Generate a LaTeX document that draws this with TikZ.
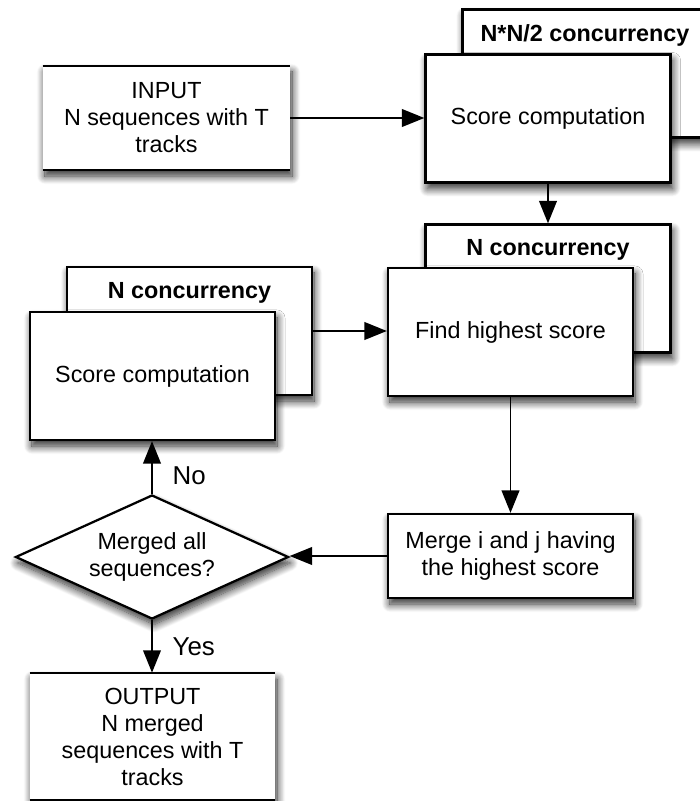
\documentclass[tikz,border=0pt]{standalone}
\usepackage{fontspec}
\setmainfont{Liberation Sans}
\usepackage{tikz}
\usetikzlibrary{arrows.meta,positioning,shapes.geometric,shadows.blur,calc}
\newcommand{\flowfont}{\fontsize{16.6}{19.2}\selectfont}
\tikzset{
  softshade/.style={blur shadow={shadow xshift=0.05cm, shadow yshift=-0.15cm,
        shadow blur radius=0.2cm, shadow blur steps=12, shadow opacity=85}},
  procbox/.style={draw=black, fill=white, line width=1.6pt, softshade,
        minimum width=6.125cm, minimum height=3.2cm, align=center,
        font=\flowfont},
  iobox/.style={fill=white, softshade, minimum width=6.175cm,
        minimum height=2.6cm, align=center, font=\flowfont},
  ioline/.style={draw=black, line width=1.6pt},
  conc/.style={font=\flowfont\bfseries, inner sep=0pt, yshift=-3pt},
  dec/.style={draw=black, fill=white, line width=1.6pt, softshade,
        diamond, aspect=2.2, minimum width=6.825cm, minimum height=3.1cm,
        inner sep=0pt, align=center, font=\flowfont},
  flow/.style={-{Triangle[length=0.56cm, width=0.44cm]}, line width=1.4pt},
  flab/.style={font=\fontsize{18.4}{21}\selectfont, inner sep=0pt}
}

\begin{document}
\begin{tikzpicture}[x=0.025cm, y=-0.025cm]
\useasboundingbox (0,0) rectangle (699,801);

% input
\node[iobox] (input) at (166.5,118) {INPUT\\N sequences with T\\tracks};
\draw[ioline] (input.north west) -- (input.north east);
\draw[ioline] (input.south west) -- (input.south east);

% pair scores
\node[procbox] (scoreback) at (585,73.5) {};
\path (scoreback.north) -- ++(0,45) node[midway, conc] (scoretitle) {N*N/2 concurrency};
\node[procbox] (score) at (548,118.5) {Score computation};

% highest score
\node[procbox] (findback) at (548,288.5) {};
\path (findback.north) -- ++(0,44) node[midway, conc] (findtitle) {N concurrency};
\node[procbox] (find) at (510.5,332) {Find highest score};

% rescoring
\node[procbox] (leftback) at (189.5,331) {};
\path (leftback.north) -- ++(0,45) node[midway, conc] (lefttitle) {N concurrency};
\node[procbox] (leftscore) at (152.5,376) {Score computation};

\node[procbox, minimum height=2.1cm] (merge) at (510.5,556) {Merge i and j having\\the highest score};
\node[dec] (merged) at (152,557) {Merged all\\sequences?};

% output
\node[iobox, minimum width=6.125cm, minimum height=3.175cm] (output) at (152.5,736.5) {OUTPUT\\N merged\\sequences with T\\tracks};
\draw[ioline] (output.north west) -- (output.north east);
\draw[ioline] (output.south west) -- (output.south east);

\draw[flow] (input.east) -- (input.east -| score.west);
\draw[flow] (score.south) -- (findback.north);
\draw[flow] (leftback.east) -- (leftback.east -| find.west);
\draw[flow] (find.south) -- (merge.north);
\draw[flow] (merge.west) -- (merge.west -| merged.east);
\draw[flow] (merged.north) -- (merged.north |- leftscore.south)
  node[flab, pos=0.35, right, xshift=14pt] {No};
\draw[flow] (merged.south) -- (merged.south |- output.north)
  node[flab, midway, right, xshift=14pt] {Yes};
\end{tikzpicture}
\end{document}
